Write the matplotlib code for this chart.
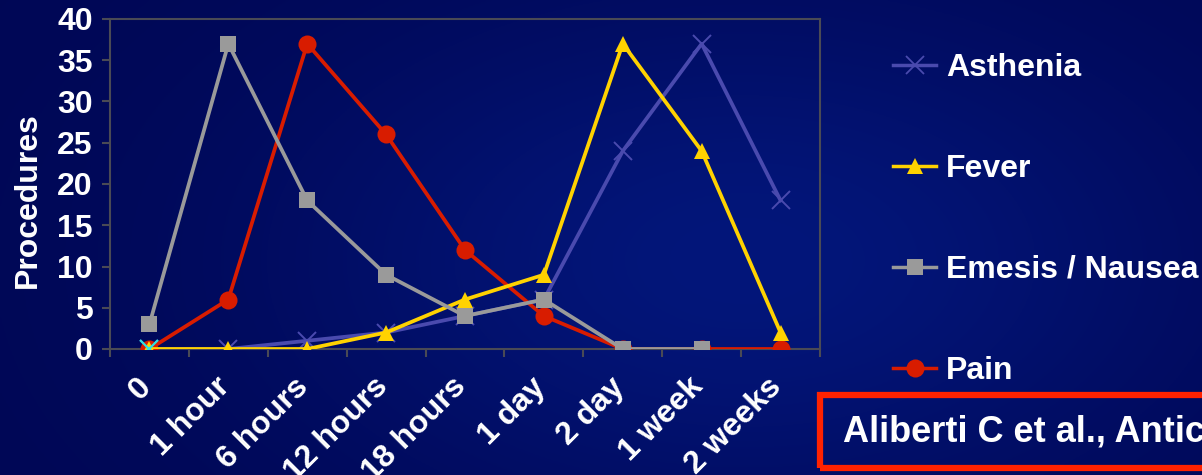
import numpy as np
import matplotlib
matplotlib.use("Agg")
import matplotlib.pyplot as plt
import matplotlib.transforms as mtransforms
from matplotlib.lines import Line2D
from matplotlib.patches import Rectangle

plt.rcParams['font.family'] = ['Liberation Sans', 'DejaVu Sans']
plt.rcParams['font.weight'] = 'bold'

# Time points after the procedure
categories = ["0", "1 hour", "6 hours", "12 hours", "18 hours",
              "1 day", "2 day", "1 week", "2 weeks"]

# Number of procedures reporting each symptom
asthenia = [0, 0, 1, 2, 4, 6, 24, 37, 18]
fever = [0, 0, 0, 2, 6, 9, 37, 24, 2]
emesis = [3, 37, 18, 9, 4, 6, 0, 0, np.nan]
pain = [0, 6, 37, 26, 12, 4, 0, 0, 0]

y_ticks = [0, 5, 10, 15, 20, 25, 30, 35, 40]
citation = "Aliberti C et al., Anticancer Res 2006"

W, H = 1202, 475
fig = plt.figure(figsize=(W / 100, H / 100), dpi=100)
fig.patch.set_facecolor("#000a5c")

# Slide background: dark navy with a soft brighter glow
bg = fig.add_axes([0, 0, 1, 1], zorder=-10)
yy, xx = np.mgrid[0:1:240j, 0:1:600j]
glow = np.exp(-(((xx - 0.62) / 0.38) ** 2 + ((yy - 0.45) / 0.55) ** 2))
c0 = np.array([0x00, 0x07, 0x55]) / 255
c1 = np.array([0x03, 0x16, 0x7a]) / 255
img = c0 + (c1 - c0) * glow[..., None]
bg.imshow(img, aspect="auto", extent=[0, 1, 0, 1], origin="lower")
bg.set_axis_off()

ax = fig.add_axes([110 / W, 1 - 349 / H, 710 / W, 330 / H])
ax.set_facecolor("none")

c_ast, c_fev, c_eme, c_pain = "#4a4aae", "#ffd200", "#9a9a9a", "#d81c00"
x = np.arange(len(categories))
lw = 2.7
ax.plot(x, asthenia, color=c_ast, lw=lw, marker="x", ms=13, mew=1.4,
        zorder=2, label="Asthenia")
ax.plot(x, fever, color=c_fev, lw=lw, marker="^", ms=12, mew=0,
        zorder=4, label="Fever")
ax.plot(x, pain, color=c_pain, lw=lw, marker="o", ms=13, mew=0,
        zorder=3, label="Pain")
ax.plot(x, emesis, color=c_eme, lw=lw, marker="s", ms=11.5, mew=0,
        zorder=5, label="Emesis / Nausea")
# first Asthenia point stands out in cyan
ax.plot(x[:1], asthenia[:1], ls="none", marker="x", ms=13, mew=1.6,
        color="#30e0e0", zorder=6)

ax.set_xlim(-0.5, len(categories) - 0.5)
ax.set_ylim(0, 40)
ax.set_yticks(y_ticks)
ax.set_yticklabels([str(v) for v in y_ticks])
ax.set_xticks(np.arange(-0.5, len(categories), 1.0))
ax.set_xticklabels([])
ax.set_xticks(x, minor=True)
ax.set_xticklabels(categories, minor=True, rotation=45, ha="right",
                   va="center", rotation_mode="anchor")

spine_c = "#4a4a55"
for s in ax.spines.values():
    s.set_color(spine_c)
    s.set_linewidth(1.5)
ax.tick_params(axis="y", colors=spine_c, labelcolor="white", labelsize=23,
               length=5.5, width=1.5, pad=7)
ax.tick_params(axis="x", which="major", colors=spine_c, length=5.5, width=1.5)
ax.tick_params(axis="x", which="minor", length=0, labelcolor="white",
               labelsize=23, pad=24)
shift = mtransforms.ScaledTranslation(-3 / 100, 0, fig.dpi_scale_trans)
for t in ax.get_xticklabels(minor=True):
    t.set_transform(t.get_transform() + shift)
for t in ax.get_yticklabels() + ax.get_xticklabels(minor=True):
    t.set_fontweight("bold")

fig.text(28 / W, 1 - 200 / H, "Procedures", rotation=90, color="white",
         fontsize=23, fontweight="bold", ha="center", va="center")

# Legend on the right
handles = [
    Line2D([], [], color=c_ast, lw=2.5, marker="x", ms=13, mew=1.3),
    Line2D([], [], color=c_fev, lw=2.5, marker="^", ms=12, mew=0),
    Line2D([], [], color=c_eme, lw=2.5, marker="s", ms=11, mew=0),
    Line2D([], [], color=c_pain, lw=2.5, marker="o", ms=13, mew=0),
]
labels = ["Asthenia", "Fever", "Emesis / Nausea", "Pain"]
leg = fig.legend(handles, labels, loc="upper left",
                 bbox_to_anchor=(893 / W, 1 - 53 / H), frameon=False,
                 prop={"size": 23, "weight": "bold"}, labelcolor="white",
                 handlelength=1.35, handletextpad=0.3, labelspacing=2.22,
                 borderpad=0, borderaxespad=0)

# Citation box
fig.patches.append(Rectangle((820 / W, 1 - 468 / H), 420 / W, 73 / H,
                             transform=fig.transFigure, fill=False,
                             edgecolor="#ff2200", lw=4.5))
fig.text(843 / W, 1 - 432 / H, citation, color="white", fontsize=26,
         fontweight="bold", ha="left", va="center")

fig.savefig("out.png", dpi=100, facecolor=fig.get_facecolor())
